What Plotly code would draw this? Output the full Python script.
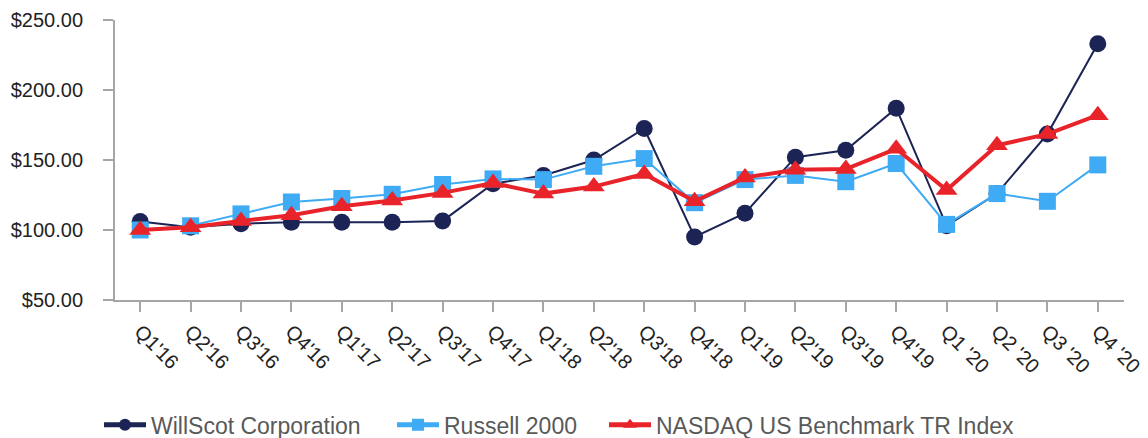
import plotly.graph_objects as go

quarters = ["Q1'16", "Q2'16", "Q3'16", "Q4'16", "Q1'17", "Q2'17", "Q3'17", "Q4'17",
            "Q1'18", "Q2'18", "Q3'18", "Q4'18", "Q1'19", "Q2'19", "Q3'19", "Q4'19",
            "Q1 '20", "Q2 '20", "Q3 '20", "Q4 '20"]

willscot = [106, 102, 104.5, 105.5, 105.5, 105.5, 106.5, 133, 139, 150,
            172.5, 95, 112, 152, 157, 187, 103, 126, 168.5, 233]
russell = [100, 103, 111.5, 120, 122.5, 125.5, 132.5, 136.5, 136, 145.5,
           151, 119.5, 136, 139, 134.5, 147.5, 104, 126, 120.5, 146.5]
nasdaq = [100, 102, 106.5, 110.5, 117, 121, 126.5, 133.5, 126, 131,
          140, 120.5, 137.5, 143, 143.5, 158, 128.5, 160.5, 168.5, 182]

y_ticks = [50, 100, 150, 200, 250]
y_tick_text = ["$50.00", "$100.00", "$150.00", "$200.00", "$250.00"]

navy = "#1b2454"
light_blue = "#3fabf5"
red = "#e8242a"

x = list(range(len(quarters)))
fig = go.Figure()
fig.add_trace(go.Scatter(
    x=x, y=willscot, name="WillScot Corporation", legend="legend",
    mode="lines+markers", line=dict(color=navy, width=2),
    marker=dict(symbol="circle", size=17, color=navy)))
fig.add_trace(go.Scatter(
    x=x, y=russell, name="Russell 2000", legend="legend2",
    mode="lines+markers", line=dict(color=light_blue, width=2),
    marker=dict(symbol="square", size=17, color=light_blue)))
fig.add_trace(go.Scatter(
    x=x, y=nasdaq, name="NASDAQ US Benchmark TR Index", legend="legend3",
    mode="lines+markers", line=dict(color=red, width=4),
    marker=dict(symbol="triangle-up", size=19, color=red)))

plot_left, plot_right = 115, 1124
pw = plot_right - plot_left


def leg(px):
    return dict(orientation="h", x=(px - plot_left) / pw, xanchor="left",
                y=-0.446, yanchor="middle", itemsizing="constant", itemwidth=42,
                font=dict(size=23, color="#595959"), bgcolor="rgba(0,0,0,0)")


fig.update_layout(
    width=1148, height=438,
    margin=dict(l=plot_left, r=1148 - plot_right, t=20, b=138, autoexpand=False),
    paper_bgcolor="white", plot_bgcolor="white",
    font=dict(family="Liberation Sans, Arial, sans-serif", color="#222222"),
    showlegend=True,
    legend=leg(99), legend2=leg(392), legend3=leg(604),
)
fig.update_xaxes(
    range=[-0.5, 19.52], tickmode="array",
    tickvals=x, ticktext=quarters, automargin=False,
    tickangle=45, tickfont=dict(size=20, color="#222222"),
    showline=True, linecolor="#a6a6a6", linewidth=2,
    ticks="outside", ticklen=10, tickcolor="#a6a6a6", tickwidth=2,
    showgrid=False, zeroline=False)
fig.update_yaxes(
    range=[50, 250], tickmode="array", tickvals=y_ticks, ticktext=y_tick_text,
    automargin=False, tickfont=dict(size=20, color="#222222"), ticklabelstandoff=16,
    showline=True, linecolor="#a6a6a6", linewidth=2,
    ticks="outside", ticklen=10, tickcolor="#a6a6a6", tickwidth=2,
    showgrid=False, zeroline=False)

fig.write_html("out.html")
